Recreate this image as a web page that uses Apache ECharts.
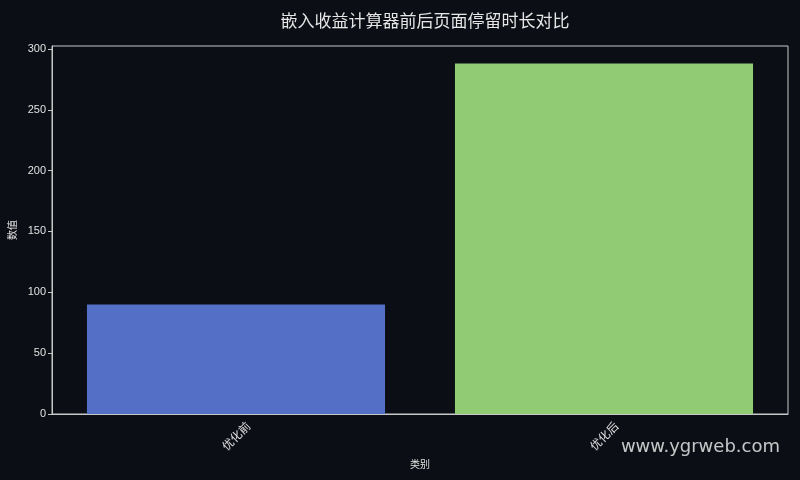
<!DOCTYPE html>
<html>
<head>
<meta charset="utf-8">
<script src="https://cdn.jsdelivr.net/npm/echarts@6/dist/echarts.min.js"></script>
<style>
html,body{margin:0;padding:0;background:#0b0e14;}
#c{width:800px;height:480px;}
</style>
</head>
<body>
<div id="c"></div>
<script>
const categories = ['优化前', '优化后'];
const values = [90, 288];
const barColors = ['#5470c6', '#91cc75'];
const yTicks = [0, 50, 100, 150, 200, 250, 300];

const chart = echarts.init(document.getElementById('c'), null, {renderer: 'canvas'});
const font = '"Noto Sans CJK SC", "DejaVu Sans", sans-serif';
chart.setOption({
  backgroundColor: '#0b0e14',
  animation: false,
  title: {
    text: '嵌入收益计算器前后页面停留时长对比',
    left: 420, top: 7, textAlign: 'center',
    textStyle: {color: '#e6e6e6', fontSize: 17, fontWeight: 'normal', fontFamily: font}
  },
  graphic: [{
    type: 'text', right: 20, top: 438,
    style: {text: 'www.ygrweb.com', fill: 'rgba(230,230,230,0.85)', fontSize: 18, fontFamily: '"DejaVu Sans", sans-serif'}
  }],
  grid: {left: 52, right: 12, top: 46, bottom: 66, show: true, borderColor: '#c8c8c8', borderWidth: 1,
         outerBoundsMode: 'none', containLabel: false},
  xAxis: {
    type: 'category', data: categories,
    name: '类别', nameLocation: 'middle', nameGap: 44,
    nameTextStyle: {color: '#e0e0e0', fontSize: 10, fontFamily: font},
    axisLine: {lineStyle: {color: '#c8c8c8'}},
    axisTick: {alignWithLabel: true, length: 4, lineStyle: {color: '#c8c8c8'}},
    axisLabel: {rotate: 45, align: 'center', verticalAlign: 'middle', color: '#e0e0e0', fontSize: 11.5, margin: 22, fontFamily: font}
  },
  yAxis: {
    type: 'value', min: 0, max: 302.4, interval: 50,
    name: '数值', nameLocation: 'middle', nameGap: 34, nameRotate: 90,
    nameTextStyle: {color: '#e0e0e0', fontSize: 10, fontFamily: font},
    axisLine: {show: true, lineStyle: {color: '#c8c8c8'}},
    axisTick: {show: true, length: 4, lineStyle: {color: '#c8c8c8'}},
    splitLine: {show: false},
    axisLabel: {color: '#e0e0e0', fontSize: 11, margin: 6, fontFamily: '"Liberation Sans", Arial, sans-serif',
      showMaxLabel: false,
      formatter: v => yTicks.includes(v) ? String(v) : ''}
  },
  series: [{
    type: 'bar', barWidth: '81%',
    data: values.map((v, i) => ({value: v, itemStyle: {color: barColors[i]}}))
  }]
});
</script>
</body>
</html>
